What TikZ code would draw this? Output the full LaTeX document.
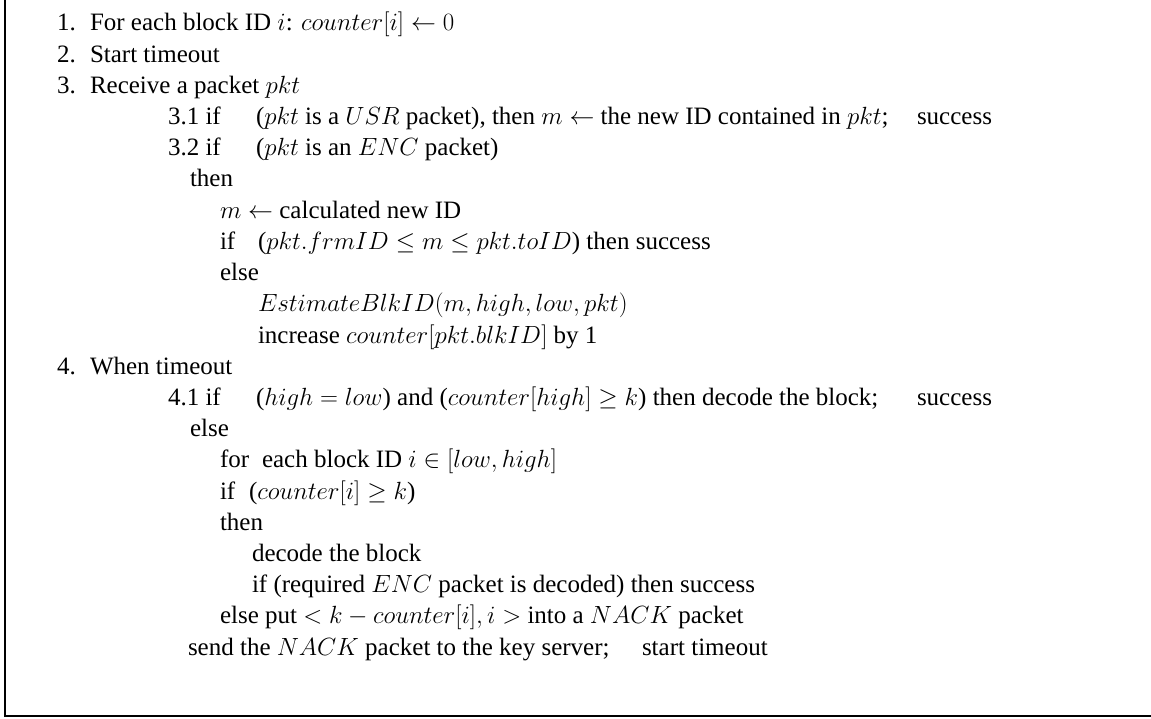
\documentclass[tikz,border=0pt]{standalone}
\usepackage[no-math]{fontspec}
\setmainfont{Liberation Serif}
\tikzset{
  t/.style={anchor=base west, inner sep=0pt, outer sep=0pt, font=\fontsize{25}{30}\selectfont},
  frame/.style={line width=2.6pt}
}
\begin{document}
\begin{tikzpicture}[x=1pt,y=-1pt]
\useasboundingbox (0,0) rectangle (1151,719);
\draw[frame] (5,0) -- (5,716) -- (1151,716);
\node[t] (n1) at (57,{31+31.2*0}) {1.};
\node[t] (l1) at (90,{31+31.2*0}) {For each block ID $i$: $counter[i] \leftarrow 0$};
\node[t] (n2) at (57,{31+31.2*1}) {2.};
\node[t] (l2) at (90,{31+31.2*1}) {Start timeout};
\node[t] (n3) at (57,{31+31.2*2}) {3.};
\node[t] (l3) at (90,{31+31.2*2}) {Receive a packet $pkt$};
\node[t] (n31) at (168,{31+31.2*3}) {3.1 if};
\node[t] (l31) at (256,{31+31.2*3}) {($pkt$ is a $USR$ packet), then $m \leftarrow$ the new ID contained in $pkt$;};
\node[t] (s31) at (917,{31+31.2*3}) {success};
\node[t] (n32) at (168,{31+31.2*4}) {3.2 if};
\node[t] (l32) at (256,{31+31.2*4}) {($pkt$ is an $ENC$ packet)};
\node[t] (th1) at (190,{31+31.2*5}) {then};
\node[t] (mcal) at (220,{31+31.2*6}) {$m \leftarrow$ calculated new ID};
\node[t] (if1) at (220,{31+31.2*7}) {if};
\node[t] (c1) at (258,{31+31.2*7}) {($pkt.frmID \leq m \leq pkt.toID$) then success};
\node[t] (el1) at (220,{31+31.2*8}) {else};
\node[t] (est) at (258,{31+31.2*9}) {$EstimateBlkID(m, high, low, pkt)$};
\node[t] (inc) at (258,{31+31.2*10}) {increase $counter[pkt.blkID]$ by 1};
\node[t] (n4) at (57,{31+31.2*11}) {4.};
\node[t] (l4) at (90,{31+31.2*11}) {When timeout};
\node[t] (n41) at (168,{31+31.2*12}) {4.1 if};
\node[t] (l41) at (256,{31+31.2*12}) {($high = low$) and ($counter[high] \geq k$) then decode the block;};
\node[t] (s41) at (917,{31+31.2*12}) {success};
\node[t] (el2) at (190,{31+31.2*13}) {else};
\node[t] (for) at (220,{31+31.2*14}) {for};
\node[t] (each) at (262,{31+31.2*14}) {each block ID $i \in [low, high]$};
\node[t] (if2) at (220,{31+31.2*15}) {if};
\node[t] (c2) at (249,{31+31.2*15}) {($counter[i] \geq k$)};
\node[t] (th2) at (220,{31+31.2*16}) {then};
\node[t] (dec) at (252,{31+31.2*17}) {decode the block};
\node[t] (req) at (252,{31+31.2*18}) {if (required $ENC$ packet is decoded) then success};
\node[t] (put) at (220,{31+31.2*19}) {else put $< k - counter[i], i >$ into a $NACK$ packet};
\node[t] (send) at (188,{31+31.2*20}) {send the $NACK$ packet to the key server;};
\node[t] (st) at (642,{31+31.2*20}) {start timeout};
\end{tikzpicture}
\end{document}
